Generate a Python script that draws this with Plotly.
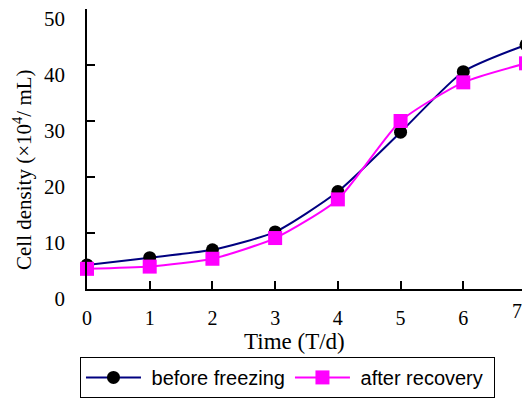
import plotly.graph_objects as go

days = [0, 1, 2, 3, 4, 5, 6, 7]
before_freezing = [4.3, 5.6, 7.0, 10.2, 17.4, 28.0, 38.8, 43.6]
after_recovery = [3.6, 4.0, 5.4, 9.1, 16.0, 30.0, 36.9, 40.3]
x_ticks = [0, 1, 2, 3, 4, 5, 6, 7]
y_ticks = [0, 10, 20, 30, 40, 50]
x_title = "Time (T/d)"
y_title = "Cell density (×10<sup>4</sup>/ mL)"

serif = "Liberation Serif, Times New Roman, serif"
sans = "Liberation Sans, Arial, sans-serif"

fig = go.Figure()
fig.add_trace(go.Scatter(
    x=days, y=before_freezing, name=" before freezing",
    mode="lines+markers", line=dict(color="#000080", width=2, shape="spline", smoothing=0.6),
    marker=dict(symbol="circle", size=13, color="black"),
    cliponaxis=False,
))
fig.add_trace(go.Scatter(
    x=days, y=after_recovery, name=" after recovery ",
    mode="lines+markers", line=dict(color="#FF00FF", width=2, shape="spline", smoothing=0.6),
    marker=dict(symbol="square", size=14, color="#FF00FF"),
    cliponaxis=False,
))

# last x tick label sits on the right edge of the page -> drawn right-anchored at that tick
fig.add_annotation(x=x_ticks[-1], xref="x", y=0, yref="paper", text=str(x_ticks[-1]),
                   showarrow=False, xanchor="right", xshift=-2, yanchor="top", yshift=-9,
                   font=dict(family=serif, size=20, color="black"))
# axis titles
fig.add_annotation(x=0.4738, xref="paper", y=-0.189, yref="paper", text=x_title,
                   showarrow=False, xanchor="center", yanchor="middle",
                   font=dict(family=serif, size=23, color="black"))
fig.add_annotation(x=0, xref="paper", xshift=-65, y=0.425, yref="paper", text=y_title,
                   showarrow=False, xanchor="center", yanchor="middle", textangle=-90,
                   font=dict(family=serif, size=21, color="black"))

# page body has an 8px margin, so the figure is drawn 8px smaller
fig.update_layout(
    width=522, height=392,
    margin=dict(l=79, r=4, t=1, b=111),
    paper_bgcolor="white", plot_bgcolor="white",
    font=dict(family=serif, color="black", size=20),
    xaxis=dict(
        range=[0, 7], tickvals=x_ticks,
        ticktext=[str(v) for v in x_ticks[:-1]] + [""],
        ticks="inside", ticklen=8, tickwidth=1.5,
        tickcolor="black", showline=True, linecolor="black", linewidth=1.5,
        showgrid=False, zeroline=False, ticklabelstandoff=10,
        ticklabeloverflow="allow", automargin=False,
        tickfont=dict(size=20, family=serif),
    ),
    yaxis=dict(
        range=[0, 50], tickvals=y_ticks, ticks="inside", ticklen=8, tickwidth=1.5,
        tickcolor="black", showline=True, linecolor="black", linewidth=1.5,
        showgrid=False, zeroline=False, ticklabelstandoff=16, ticklabelshift=10,
        ticklabeloverflow="allow", automargin=False,
        tickfont=dict(size=21, family=serif),
    ),
    legend=dict(
        orientation="h", x=-0.016, y=-0.389, xanchor="left", yanchor="bottom",
        bordercolor="black", borderwidth=1, bgcolor="white",
        font=dict(family=sans, size=20), itemwidth=55, tracegroupgap=0,
    ),
    showlegend=True,
)

fig.write_html("out.html")
